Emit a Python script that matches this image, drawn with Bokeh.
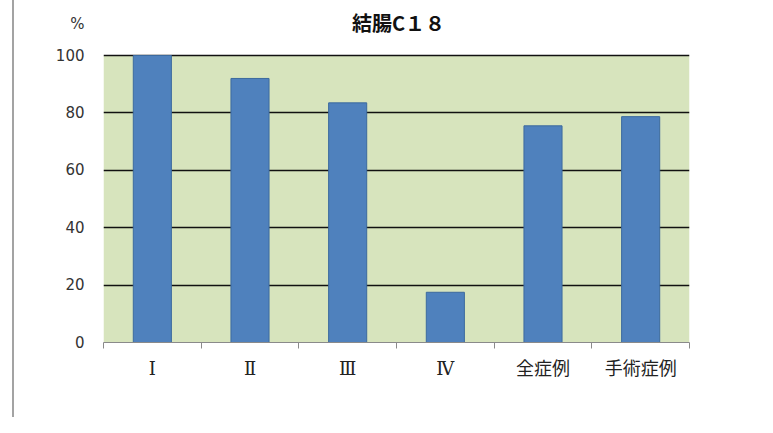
from bokeh.plotting import figure
from bokeh.models import (ColumnDataSource, FactorRange, Range1d, LinearAxis,
                          FixedTicker, Label, BoxAnnotation)
from bokeh.embed import file_html
from bokeh.resources import INLINE

# ---- data ----
categories = ["Ⅰ", "Ⅱ", "Ⅲ", "Ⅳ", "全症例", "手術症例"]
values = [100.0, 92.0, 83.5, 17.5, 75.5, 78.7]
y_ticks = [0, 20, 40, 60, 80, 100]
y_max = 100
title_text = "結腸C１８"
unit_text = "%"

# layout constants (pixels)
W, H = 757, 417
LEFT, RIGHT, TOP, BOTTOM = 103, 68, 5, 75
PX_PER_UNIT = 2.87
top_extra = (55 - TOP) / PX_PER_UNIT      # white space above 100 inside the frame
unit_pos = (342 - 23) / PX_PER_UNIT
title_pos = (342 - 22) / PX_PER_UNIT

src = ColumnDataSource(dict(cat=categories, val=values))

xr = FactorRange(factors=categories, range_padding=0, factor_padding=0)
p = figure(width=W, height=H, x_range=xr,
           y_range=Range1d(0, y_max + top_extra),
           output_backend="svg", toolbar_location=None,
           x_axis_type=None, y_axis_type="linear",
           min_border_left=LEFT, min_border_right=RIGHT,
           min_border_top=TOP, min_border_bottom=BOTTOM)

p.background_fill_color = "white"
p.border_fill_alpha = 0
p.outline_line_color = None
p.styles = {"background": "linear-gradient(to right, white 12px, #a3a3a3 12px, "
                          "#a3a3a3 14px, white 14px)"}

# green plot area (0..100)
p.add_layout(BoxAnnotation(bottom=0, top=y_max, fill_color="#D7E4BD",
                           fill_alpha=1, line_color=None, level="image"))

p.vbar(x="cat", top="val", width=0.39, source=src,
       fill_color="#4F81BD", line_color="#3C6A9E", line_width=1)

# y axis (with the unit mark as a label above 100)
yax = p.yaxis[0]
yax.ticker = FixedTicker(ticks=y_ticks + [unit_pos])
yax.major_label_overrides = {unit_pos: unit_text}
yax.axis_line_color = None
yax.major_tick_line_color = None
yax.minor_tick_line_color = None
yax.major_tick_out = 0
yax.major_tick_in = 0
yax.major_label_standoff = 19
yax.major_label_text_font = "DejaVu Sans"
yax.major_label_text_font_size = "15px"
yax.major_label_text_color = "#333333"

p.xgrid.visible = False
p.ygrid.ticker = FixedTicker(ticks=y_ticks[1:])
p.ygrid.grid_line_color = "#111111"
p.ygrid.grid_line_width = 1.6

# x axis: labels at category centres, ticks at boundaries
n = len(categories)
centres = [i + 0.5 for i in range(n)]
bounds = [float(i) for i in range(n + 1)]
xax = LinearAxis(ticker=FixedTicker(ticks=centres, minor_ticks=bounds))
xax.major_label_overrides = {c: lab for c, lab in zip(centres, categories)}
xax.axis_line_color = "#8a8a8a"
xax.axis_line_width = 1
xax.major_tick_line_color = None
xax.major_tick_out = 0
xax.major_tick_in = 0
xax.minor_tick_line_color = "#8a8a8a"
xax.minor_tick_out = 6
xax.minor_tick_in = 0
xax.major_label_standoff = 9
xax.major_label_text_font = "DejaVu Serif, Noto Sans CJK JP"
xax.major_label_text_font_size = "18px"
xax.major_label_text_color = "#222222"
p.add_layout(xax, "below")

# chart title (inside the frame, above the green area)
p.add_layout(Label(x=n / 2 + 0.02, y=title_pos, text=title_text,
                   text_font="Noto Sans CJK JP", text_font_style="bold",
                   text_font_size="20px", text_align="center",
                   text_baseline="middle", text_color="#111111"))

open("out.html", "w").write(file_html(p, INLINE))
